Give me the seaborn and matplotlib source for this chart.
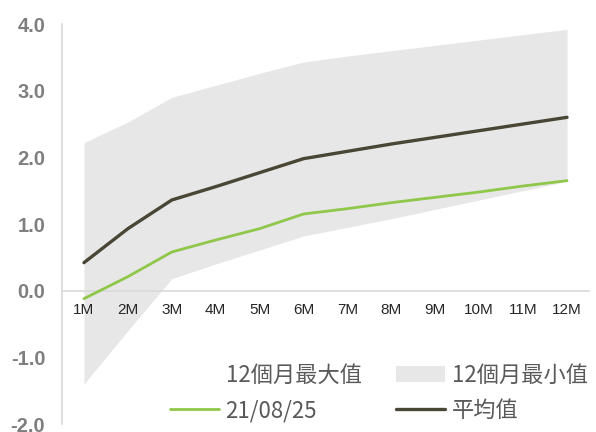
import matplotlib
matplotlib.use("Agg")
import matplotlib.pyplot as plt
import seaborn as sns
import pandas as pd
import numpy as np
from matplotlib.patches import Patch
from matplotlib.lines import Line2D

tenors = ["1M", "2M", "3M", "4M", "5M", "6M", "7M", "8M", "9M", "10M", "11M", "12M"]
max_12m = [2.22, 2.53, 2.90, 3.08, 3.26, 3.43, 3.52, 3.60, 3.68, 3.76, 3.84, 3.92]
min_12m = [-1.40, -0.60, 0.18, 0.40, 0.61, 0.82, 0.95, 1.08, 1.22, 1.36, 1.50, 1.64]
current = [-0.12, 0.21, 0.58, 0.76, 0.93, 1.15, 1.23, 1.32, 1.40, 1.48, 1.57, 1.65]
average = [0.42, 0.93, 1.36, 1.56, 1.77, 1.98, 2.09, 2.20, 2.30, 2.40, 2.50, 2.60]
y_ticks = [-2.0, -1.0, 0.0, 1.0, 2.0, 3.0, 4.0]

labels = ["12個月最大值", "12個月最小值", "21/08/25", "平均值"]

sns.set_theme(style="white")
plt.rcParams['font.family'] = ['Liberation Sans', 'Noto Sans CJK TC', 'DejaVu Sans']

df = pd.DataFrame({"pos": np.arange(len(tenors)), "tenor": tenors,
                   "max": max_12m, "min": min_12m, "cur": current, "avg": average})

fig = plt.figure(figsize=(5.96, 4.32), dpi=100)
ax = fig.add_axes([62/596, 1-424/432, (589-62)/596, 400/432])
ax.set_axisbelow(False)

band_color = "#e7e7e7"
green = "#8fc74a"
dark = "#4a4636"

ax.fill_between(df["pos"], df["min"], df["max"], color=band_color, lw=0, zorder=1)
sns.lineplot(data=df, x="pos", y="cur", ax=ax, color=green, lw=2.0, zorder=3)
sns.lineplot(data=df, x="pos", y="avg", ax=ax, color=dark, lw=2.4, zorder=4)

ax.set_xlim(-0.5, len(tenors) - 0.5)
ax.set_ylim(-2.0, 4.0)
ax.set_xlabel("")
ax.set_ylabel("")

tick_color = "#7f7f7f"
ax.set_yticks(y_ticks)
ax.set_yticklabels([f"{v:.1f}" for v in y_ticks], fontsize=14.5, color=tick_color, fontweight="bold")
ax.set_xticks(df["pos"])
ax.set_xticklabels(tenors, fontsize=14.5, color=tick_color, fontweight="bold")

for s in ["top", "right"]:
    ax.spines[s].set_visible(False)
ax.spines["left"].set_color("#d9d9d9")
ax.spines["left"].set_linewidth(1.2)
ax.spines["bottom"].set_position(("data", 0))
ax.spines["bottom"].set_color("#d9d9d9")
ax.spines["bottom"].set_linewidth(1.2)
ax.spines["bottom"].set_zorder(2)
ax.tick_params(axis="x", length=0, pad=9)
ax.tick_params(axis="y", length=0, pad=12)
ax.patch.set_alpha(0)

handles = [
    Patch(facecolor="white", edgecolor="none"),
    Line2D([0], [0], color=green, lw=2.0),
    Patch(facecolor=band_color, edgecolor="none"),
    Line2D([0], [0], color=dark, lw=2.4),
]
leg_labels = [labels[0], labels[2], labels[1], labels[3]]
leg = fig.legend(handles, leg_labels, ncol=2, loc="upper left",
                 bbox_to_anchor=(170/596, 1-364/432), frameon=False,
                 prop={"family": ['Noto Sans CJK TC', 'DejaVu Sans'], "size": 16},
                 handlelength=2.2, handletextpad=0.3, columnspacing=1.55,
                 labelspacing=0.55, borderpad=0, borderaxespad=0)
for t in leg.get_texts():
    t.set_color("#595959")

fig.savefig("out.png", dpi=100)
